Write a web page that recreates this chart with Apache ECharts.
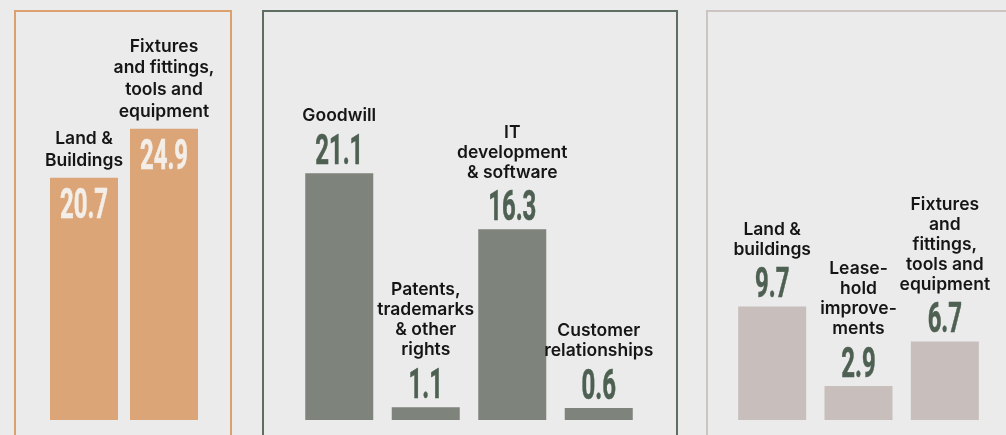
<!DOCTYPE html>
<html><head><meta charset="utf-8">
<script src="https://cdn.jsdelivr.net/npm/echarts@6/dist/echarts.min.js"></script>
<style>html,body{margin:0;padding:0;background:#ebebeb;}#c{width:1006px;height:435px;}</style>
</head><body><div id="c"></div>
<script>
const leftCats = ['Land &\nBuildings', 'Fixtures\nand fittings,\ntools and\nequipment'];
const leftVals = [20.7, 24.9];
const midCats = ['Goodwill', 'Patents,\ntrademarks\n& other\nrights', 'IT\ndevelopment\n& software', 'Customer\nrelationships'];
const midVals = [21.1, 1.1, 16.3, 0.6];
const rightCats = ['Land &\nbuildings', 'Lease-\nhold\nimprove-\nments', 'Fixtures\nand\nfittings,\ntools and\nequipment'];
const rightVals = [9.7, 2.9, 6.7];

const NAME_FONT = 'Inter';
const YMAX = 30;

function nameRich(s) { return s.split('\n').map(l => '{n|' + l + '}').join('\n'); }

const chart = echarts.init(document.getElementById('c'), null, {renderer: 'canvas'});
const grids = [
  {left: 44, width: 160, top: 69, height: 351},
  {left: 296, width: 346, top: 69, height: 351},
  {left: 729, width: 259, top: 69, height: 351}
];
const cats = [leftCats, midCats, rightCats];
const vals = [leftVals, midVals, rightVals];
const xAxis = cats.map((c, i) => ({type: 'category', gridIndex: i, data: c, show: false}));
const yAxis = cats.map((c, i) => ({type: 'value', gridIndex: i, min: 0, max: YMAX, show: false}));

const nameStyle = {fontFamily: NAME_FONT, fontSize: 17.5, fontWeight: 600, color: '#151515', lineHeight: 20, align: 'center'};
const minH = [0, 12, 0];

// value labels drawn as condensed text through the axis scales
function valueLabel(color, dy, gi) {
  return function (params, api) {
    const v = api.value(1);
    const pt = api.coord([api.value(0), v]);
    const base = api.coord([api.value(0), 0]);
    let top = pt[1];
    if (base[1] - top < minH[gi]) top = base[1] - minH[gi];
    return {
      type: 'text', x: pt[0], y: top + dy, scaleX: 0.57, silent: true,
      style: {text: String(v), fill: color, stroke: color, lineWidth: 0.6,
        fontFamily: 'Roboto', fontWeight: 'bold', fontSize: 42,
        align: 'center', verticalAlign: 'bottom'}
    };
  };
}

const series = [];
const barColors = ['#dba578', '#7e837b', '#c8bfbd'];
for (let gi = 0; gi < 3; gi++) {
  series.push({type: 'bar', xAxisIndex: gi, yAxisIndex: gi, data: vals[gi], barWidth: 68, barMinHeight: minH[gi],
    itemStyle: {color: barColors[gi]}, silent: true, animation: false,
    label: {show: true, position: 'top', distance: gi === 0 ? 6 : 47, formatter: p => nameRich(p.name),
      rich: {n: Object.assign({}, nameStyle, gi === 0 ? {lineHeight: 21.8} : {})}}});
  series.push({type: 'custom', xAxisIndex: gi, yAxisIndex: gi, silent: true, animation: false,
    data: vals[gi].map((v, i) => [i, v]),
    renderItem: gi === 0 ? valueLabel('#f4eee8', 51, gi) : valueLabel('#4e6052', 1, gi), z: 5});
}

chart.setOption({
  backgroundColor: '#ebebeb',
  animation: false,
  grid: grids,
  xAxis: xAxis,
  yAxis: yAxis,
  series: series,
  graphic: [
    {type: 'rect', shape: {x: 15, y: 11, width: 216, height: 450}, style: {fill: 'none', stroke: '#dba06e', lineWidth: 2}, z: -1},
    {type: 'rect', shape: {x: 263, y: 11, width: 414, height: 450}, style: {fill: 'none', stroke: '#5e6e62', lineWidth: 2}, z: -1},
    {type: 'rect', shape: {x: 707, y: 11, width: 330, height: 450}, style: {fill: 'none', stroke: '#cdc3c1', lineWidth: 2}, z: -1}
  ]
});
</script></body></html>
